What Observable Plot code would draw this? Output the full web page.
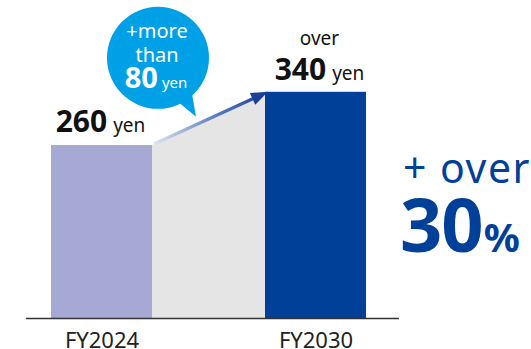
<!DOCTYPE html>
<html>
<head>
<meta charset="utf-8">
<script src="https://cdn.jsdelivr.net/npm/d3@7"></script>
<script src="https://cdn.jsdelivr.net/npm/@observablehq/plot@0.6"></script>
<style>
  html, body { margin: 0; padding: 0; background: #fff; }
  svg { display: block; overflow: visible; }
</style>
</head>
<body>
<div id="chart"></div>
<script>
const years = ["FY2024", "FY2030"];
const values = [260, 340];
const valuePrefix = ["", "over"];
const unit = "yen";
const bubbleLines = ["+more", "than"];
const increase = 80;
const increaseLabel = "+ over";
const increasePct = 30;
const barColors = ["#a5a9d4", "#004098"];

(function () {
const data = years.map((year, i) => ({year, value: values[i], color: barColors[i]}));
const FONT = "'Noto Sans', 'Open Sans', sans-serif";
const BLUE = "#004098";

const chart = Plot.plot({
  width: 531,
  height: 349,
  marginLeft: 26,
  marginRight: 132,
  marginTop: 0,
  marginBottom: 31,
  style: {fontFamily: FONT, background: "white", color: "#222"},
  x: {domain: years, paddingInner: 0.53, paddingOuter: 0.1326, align: 0.42, label: null},
  y: {domain: [0, 478], axis: null},
  marks: [
    Plot.barY(data, {x: "year", y: "value", fill: "color", inset: 0}),
    Plot.ruleY([0], {stroke: "#333", strokeWidth: 1.5}),
    Plot.axisX({tickSize: 0, tickPadding: 14, fontSize: 22, fill: "#222", label: null})
  ]
});
document.getElementById("chart").append(chart);

const xs = chart.scale("x");
const ys = chart.scale("y");
const bw = xs.bandwidth;
const x1 = xs.apply(years[0]);
const x2 = xs.apply(years[1]);
const y0 = ys.apply(0);
const ya = ys.apply(values[0]);
const yb = ys.apply(values[1]);

const svg = d3.select(chart);
const bg = svg.insert("g", ":first-child").attr("font-family", FONT);
const fg = svg.append("g").attr("font-family", FONT);

// gray connecting area
bg.append("path")
  .attr("d", `M${x1 + bw},${y0}L${x1 + bw},${ya}L${x2},${yb}L${x2},${y0}Z`)
  .attr("fill", "#e5e5e5");

// arrow with gradient
const ax0 = x1 + bw + 2, ay0 = ya - 1;
const ax1 = x2 + 3, ay1 = yb;
const defs = svg.append("defs");
const grad = defs.append("linearGradient").attr("id", "arrowGrad")
  .attr("gradientUnits", "userSpaceOnUse")
  .attr("x1", ax0).attr("y1", ay0).attr("x2", ax1).attr("y2", ay1);
grad.append("stop").attr("offset", 0).attr("stop-color", "#dfe5f2");
grad.append("stop").attr("offset", 0.55).attr("stop-color", "#5a7bbd");
grad.append("stop").attr("offset", 1).attr("stop-color", "#1a3f99");
const ang = Math.atan2(ay1 - ay0, ax1 - ax0);
const headLen = 17, headW = 6.5;
const bx = ax1 - headLen * Math.cos(ang), by = ay1 - headLen * Math.sin(ang);
fg.append("line")
  .attr("x1", ax0).attr("y1", ay0).attr("x2", bx + 2 * Math.cos(ang)).attr("y2", by + 2 * Math.sin(ang))
  .attr("stroke", "url(#arrowGrad)").attr("stroke-width", 3.2);
const px = -Math.sin(ang), py = Math.cos(ang);
fg.append("path")
  .attr("d", `M${ax1},${ay1}L${bx + headW * px},${by + headW * py}L${bx - headW * px},${by - headW * py}Z`)
  .attr("fill", "#1a3f99");

// speech bubble
const cx = x1 + bw + 6, cy = yb - 34, r = 51;
fg.append("path")
  .attr("d", `M${cx + 20},${cy + 44}L${cx + 38},${cy + 59}L${cx + 34},${cy + 36}Z`)
  .attr("fill", "#00a0e6");
fg.append("circle").attr("cx", cx).attr("cy", cy).attr("r", r).attr("fill", "#00a0e6");
fg.append("text").attr("x", cx - 1).attr("y", cy - 20).attr("text-anchor", "middle")
  .attr("fill", "white").attr("font-size", 20).text(bubbleLines[0]);
fg.append("text").attr("x", cx - 1).attr("y", cy + 4).attr("text-anchor", "middle")
  .attr("fill", "white").attr("font-size", 20).text(bubbleLines[1]);
const t80 = fg.append("text").attr("x", cx - 2).attr("y", cy + 30).attr("text-anchor", "middle").attr("fill", "white");
t80.append("tspan").attr("font-size", 29).attr("font-weight", 700).text(String(increase));
t80.append("tspan").attr("font-size", 15).attr("dx", 4).text(unit);

// value labels
const t1 = fg.append("text").attr("x", x1 + bw / 2 - 1).attr("y", ya - 13).attr("text-anchor", "middle").attr("fill", "#111");
t1.append("tspan").attr("font-size", 30).attr("font-weight", 700).text(String(values[0]));
t1.append("tspan").attr("font-size", 19).attr("dx", 6).text(unit);

fg.append("text").attr("x", x2 + bw / 2 + 4).attr("y", yb - 47).attr("text-anchor", "middle")
  .attr("fill", "#111").attr("font-size", 19).text(valuePrefix[1]);
const t2 = fg.append("text").attr("x", x2 + bw / 2 + 4).attr("y", yb - 12).attr("text-anchor", "middle").attr("fill", "#111");
t2.append("tspan").attr("font-size", 30).attr("font-weight", 700).text(String(values[1]));
t2.append("tspan").attr("font-size", 19).attr("dx", 6).text(unit);

// right-hand growth label
const rx = x2 + bw + 37;
fg.append("text").attr("x", rx).attr("y", yb + 91).attr("fill", BLUE).attr("text-anchor", "start")
  .attr("font-size", 41).attr("letter-spacing", 1.5).text(increaseLabel);
const tp = fg.append("text").attr("x", rx - 3).attr("y", yb + 160).attr("fill", BLUE).attr("font-weight", 700).attr("text-anchor", "start");
tp.append("tspan").attr("font-size", 74).attr("letter-spacing", -1).text(String(increasePct));
tp.append("tspan").attr("font-size", 40).attr("dx", 1).text("%");
})();
</script>
</body>
</html>
